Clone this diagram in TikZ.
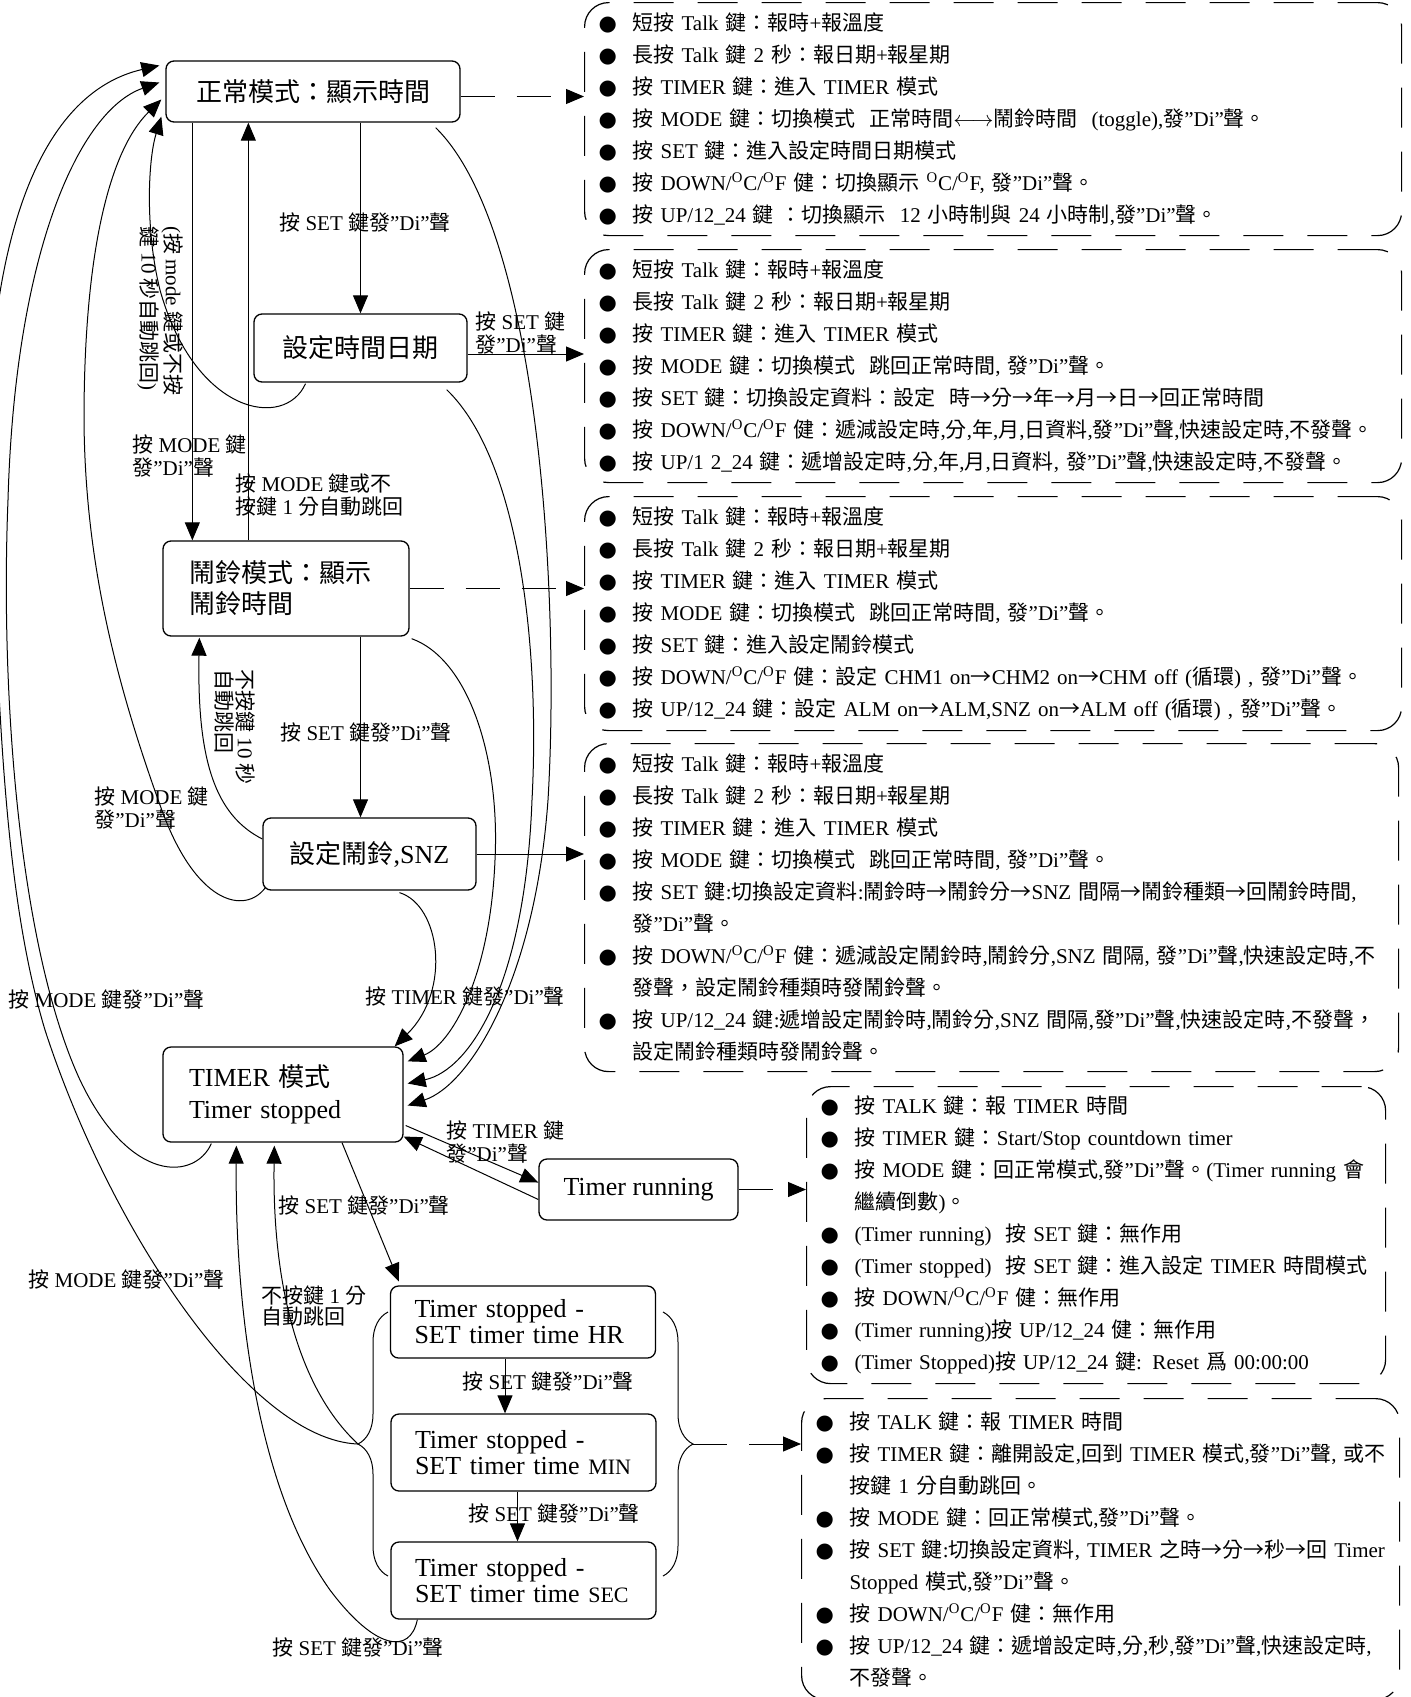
\documentclass[tikz,border=0pt]{standalone}
\usepackage{fontspec}
\setmainfont{Liberation Serif}
\newfontfamily\cjk{Noto Sans CJK TC}
\newfontfamily\symfont{DejaVu Sans}
\usetikzlibrary{arrows.meta,calc,decorations.pathreplacing}

%CJK characters switch to their own font
\newXeTeXintercharclass\cjkclass
\newcount\chrno
\chrno=0
\loop\XeTeXcharclass\chrno=0 \advance\chrno by 1 \ifnum\chrno<"3000 \repeat
\chrno="3000
\loop\XeTeXcharclass\chrno=\cjkclass\advance\chrno by 1 \ifnum\chrno<"A000 \repeat
\chrno="FF00
\loop\XeTeXcharclass\chrno=\cjkclass\advance\chrno by 1 \ifnum\chrno<"FFF0 \repeat
\XeTeXcharclass"2192=\cjkclass
\XeTeXinterchartoks 0 \cjkclass = {\cjk}
\XeTeXinterchartoks 4095 \cjkclass = {\cjk}
\XeTeXinterchartoks \cjkclass 0 = {\rmfamily}
\XeTeXinterchartoks \cjkclass 4095 = {\rmfamily}
\XeTeXinterchartokenstate=1

\newcommand{\itm}[1]{\makebox[17pt][l]{\symfont ●}\mbox{#1}}
\newcommand{\contline}[1]{\hspace*{17pt}\mbox{#1}}
\newcommand{\dg}{\textsuperscript{O}}

\tikzset{
  state/.style={draw, rounded corners=4pt, line width=0.65pt, inner sep=0pt, font=\fontsize{13}{16}\selectfont},
  statel/.style={state, align=left, inner xsep=13pt},
  listbox/.style={draw, dash pattern=on 20pt off 12pt, rounded corners=12pt, line width=0.6pt, anchor=north west, align=left, inner xsep=7pt, inner ysep=0pt, font=\fontsize{10.5}{16}\selectfont},
  lbl/.style={inner sep=0pt, align=left, font=\fontsize{10.5}{11.5}\selectfont},
  vlbl/.style={lbl, rotate=-90, anchor=north west, font=\fontsize{10.5}{10.5}\selectfont},
  arr/.style={line width=0.5pt, -{Triangle[length=9pt,width=7.5pt]}},
  darr/.style={arr, dash pattern=on 17pt off 11pt},
  brc/.style={decorate, decoration={brace, amplitude=15pt}, line width=0.5pt},
}

\begin{document}
\begin{tikzpicture}[x=0.5pt,y=0.5pt,yscale=-1,xscale=1]
	\useasboundingbox (0,0) rectangle (1410,1697);

	%Shape: Rounded Rect
	\node[state, minimum width=147pt, minimum height=30.5pt] (normal) at (313,91.5) {正常模式：顯示時間};
	\node[state, minimum width=106.5pt, minimum height=34pt] (setdate) at (360.5,348) {設定時間日期};
	\node[statel, font=\fontsize{13}{15.5}\selectfont, text width=97pt, minimum height=47.5pt] (alarm) at (286,588.5) {鬧鈴模式：顯示\\鬧鈴時間};
	\node[state, minimum width=106.5pt, minimum height=36pt] (setalarm) at (369.5,854) {設定鬧鈴,SNZ};
	\node[statel, text width=94pt, minimum height=47.5pt] (timer) at (283,1094.5) {TIMER 模式\\Timer stopped};
	\node[state, minimum width=99.5pt, minimum height=30.5pt] (running) at (638.5,1189.5) {Timer running};
	\node[statel, font=\fontsize{13}{13}\selectfont, inner xsep=12pt, text width=108.5pt, minimum height=36pt] (sethr) at (523,1322) {Timer stopped -\\SET timer time HR};
	\node[statel, font=\fontsize{13}{13}\selectfont, inner xsep=12pt, text width=108.5pt, minimum height=38.5pt] (setmin) at (523.5,1452.5) {Timer stopped -\\SET timer time {\fontsize{11}{13}\selectfont MIN}};
	\node[statel, font=\fontsize{13}{13}\selectfont, inner xsep=12pt, text width=108.5pt, minimum height=38.5pt] (setsec) at (523.5,1580.5) {Timer stopped -\\SET timer time {\fontsize{11}{13}\selectfont SEC}};

	%Shape: Dashed Rounded Rect
	\node[listbox, text width=394.5pt, minimum height=116.5pt] (lnormal) at (584,2) {%
	\itm{短按 Talk 鍵：報時+報溫度}\\
	\itm{長按 Talk 鍵 2 秒：報日期+報星期}\\
	\itm{按 TIMER 鍵：進入 TIMER 模式}\\
	\itm{按 MODE 鍵：切換模式 \ 正常時間$\longleftrightarrow$鬧鈴時間 \ (toggle),發”Di”聲。}\\
	\itm{按 SET 鍵：進入設定時間日期模式}\\
	\itm{按 DOWN/\dg C/\dg F 健：切換顯示 \dg C/\dg F, 發”Di”聲。}\\
	\itm{按 UP/12\_24 鍵 ：切換顯示 \ 12 小時制與 24 小時制,發”Di”聲。}};
	\node[listbox, text width=394.5pt, minimum height=116.5pt] (lsetdate) at (584,249) {%
	\itm{短按 Talk 鍵：報時+報溫度}\\
	\itm{長按 Talk 鍵 2 秒：報日期+報星期}\\
	\itm{按 TIMER 鍵：進入 TIMER 模式}\\
	\itm{按 MODE 鍵：切換模式 \ 跳回正常時間, 發”Di”聲。}\\
	\itm{按 SET 鍵：切換設定資料：設定 \ 時→分→年→月→日→回正常時間}\\
	\itm{按 DOWN/\dg C/\dg F 健：遞減設定時,分,年,月,日資料,發”Di”聲,快速設定時,不發聲。}\\
	\itm{按 UP/1 2\_24 鍵：遞增設定時,分,年,月,日資料, 發”Di”聲,快速設定時,不發聲。}};
	\node[listbox, text width=394.5pt, minimum height=117pt] (lalarm) at (584,496) {%
	\itm{短按 Talk 鍵：報時+報溫度}\\
	\itm{長按 Talk 鍵 2 秒：報日期+報星期}\\
	\itm{按 TIMER 鍵：進入 TIMER 模式}\\
	\itm{按 MODE 鍵：切換模式 \ 跳回正常時間, 發”Di”聲。}\\
	\itm{按 SET 鍵：進入設定鬧鈴模式}\\
	\itm{按 DOWN/\dg C/\dg F 健：設定 CHM1 on→CHM2 on→CHM off (循環) , 發”Di”聲。}\\
	\itm{按 UP/12\_24 鍵：設定 ALM on→ALM,SNZ on→ALM off (循環) , 發”Di”聲。}};
	\node[listbox, text width=393pt, minimum height=164pt] (lsetalarm) at (584,743) {%
	\itm{短按 Talk 鍵：報時+報溫度}\\
	\itm{長按 Talk 鍵 2 秒：報日期+報星期}\\
	\itm{按 TIMER 鍵：進入 TIMER 模式}\\
	\itm{按 MODE 鍵：切換模式 \ 跳回正常時間, 發”Di”聲。}\\
	\itm{按 SET 鍵:切換設定資料:鬧鈴時→鬧鈴分→SNZ 間隔→鬧鈴種類→回鬧鈴時間,}\\
	\contline{發”Di”聲。}\\
	\itm{按 DOWN/\dg C/\dg F 健：遞減設定鬧鈴時,鬧鈴分,SNZ 間隔, 發”Di”聲,快速設定時,不}\\
	\contline{發聲，設定鬧鈴種類時發鬧鈴聲。}\\
	\itm{按 UP/12\_24 鍵:遞增設定鬧鈴時,鬧鈴分,SNZ 間隔,發”Di”聲,快速設定時,不發聲，}\\
	\contline{設定鬧鈴種類時發鬧鈴聲。}};
	\node[listbox, text width=275.5pt, minimum height=148.5pt] (lrunning) at (806,1086) {%
	\itm{按 TALK 鍵：報 TIMER 時間}\\
	\itm{按 TIMER 鍵：Start/Stop countdown timer}\\
	\itm{按 MODE 鍵：回正常模式,發”Di”聲。(Timer running 會}\\
	\contline{繼續倒數)。}\\
	\itm{(Timer running) \ 按 SET 鍵：無作用}\\
	\itm{(Timer stopped) \ 按 SET 鍵：進入設定 TIMER 時間模式}\\
	\itm{按 DOWN/\dg C/\dg F 健：無作用}\\
	\itm{(Timer running)按 UP/12\_24 健：無作用}\\
	\itm{(Timer Stopped)按 UP/12\_24 鍵: Reset 爲 00:00:00}};
	\node[listbox, text width=285pt, minimum height=150.5pt] (lsettimer) at (801,1398) {%
	\itm{按 TALK 鍵：報 TIMER 時間}\\
	\itm{按 TIMER 鍵：離開設定,回到 TIMER 模式,發”Di”聲, 或不}\\
	\contline{按鍵 1 分自動跳回。}\\
	\itm{按 MODE 鍵：回正常模式,發”Di”聲。}\\
	\itm{按 SET 鍵:切換設定資料, TIMER 之時→分→秒→回 Timer}\\
	\contline{Stopped 模式,發”Di”聲。}\\
	\itm{按 DOWN/\dg C/\dg F 健：無作用}\\
	\itm{按 UP/12\_24 鍵：遞增設定時,分,秒,發”Di”聲,快速設定時,}\\
	\contline{不發聲。}};

	%Shape: Brace
	\draw[brc] (388,1576) -- (388,1312);
	\draw[brc] (663,1312) -- (663,1576);
	\coordinate (lbr) at (358,1444);
	\coordinate (rbr) at (693,1444);

	%Straight Lines
	\coordinate (m1) at ($(normal.south west)+(27,0)$);
	\coordinate (m2) at ($(alarm.north west)+(86,0)$);
	\coordinate (m3) at ($(setalarm.north)+(-9,0)$);
	\coordinate (m4) at ($(sethr.south)+(-18,0)$);
	\coordinate (m5) at ($(setmin.south)+(-6,0)$);
	\coordinate (m6) at ($(normal.east)+(0,5)$);
	\coordinate (m7) at ($(setdate.east)+(0,6)$);
	\draw[arr] (normal.south -| setdate.north) -- (setdate.north);
	\draw[arr] (m1) -- (m1 |- alarm.north);
	\draw[arr] (m2) -- (m2 |- normal.south);
	\draw[arr] (m3 |- alarm.south) -- (m3);
	\draw[arr] ($(timer.east)+(2,31)$) -- ($(running.west)+(0,-7)$);
	\draw[arr] ($(running.west)+(0,10)$) -- ($(timer.east)+(0,42)$);
	\draw[arr] ($(timer.south)+(59,0)$) -- ($(sethr.north west)+(9,-4)$);
	\draw[arr] (m4) -- (m4 |- setmin.north);
	\draw[arr] (m5) -- (m5 |- setsec.north);
	\draw[darr] (m6) -- (m6 -| lnormal.west);
	\draw[arr] (m7) -- (m7 -| lsetdate.west);
	\draw[darr] (alarm.east) -- (alarm.east -| lalarm.west);
	\draw[arr] (setalarm.east) -- (setalarm.east -| lsetalarm.west);
	\draw[darr] (running.east) -- (running.east -| lrunning.west);
	\draw[darr] (rbr) -- (rbr -| lsettimer.west);

	%Curve Lines
	\draw[arr] ($(setdate.south)+(-55,1)$) .. controls (285,430) and (195,415) .. (160,290) .. controls (145,230) and (148,160) .. ($(normal.south west)+(-4,-6)$);
	\draw[arr] ($(setalarm.south west)+(3,-3)$) .. controls (245,915) and (195,905) .. (160,805) .. controls (115,680) and (85,560) .. (84,420) .. controls (84,250) and (110,150) .. ($(normal.west)+(-4,8)$);
	\draw[arr] ($(timer.south west)+(49,1)$) .. controls (195,1180) and (130,1185) .. (80,1080) .. controls (20,950) and (0,700) .. (8,500) .. controls (15,250) and (80,110) .. ($(normal.west)+(-6,-9)$);
	\draw[arr] (lbr) .. controls (250,1440) and (110,1230) .. (45,1030) .. controls (15,930) and (2,800) .. (-5,600) .. controls (-30,330) and (10,100) .. ($(normal.west)+(-6,-26)$);
	\draw[arr] ($(setalarm.west)+(0,-15)$) .. controls (215,815) and (197,760) .. ($(alarm.south west)+(37,1)$);
	\draw[arr] ($(normal.south east)+(-25,5)$) .. controls (540,230) and (560,600) .. (548,800) .. controls (535,980) and (470,1085) .. ($(timer.east)+(4,11)$);
	\draw[arr] ($(setdate.south east)+(-21,7)$) .. controls (520,460) and (540,650) .. (532,800) .. controls (525,985) and (470,1070) .. ($(timer.east)+(4,-11)$);
	\draw[arr] ($(alarm.south east)+(2,2)$) .. controls (470,660) and (500,760) .. (495,860) .. controls (490,980) and (450,1045) .. ($(timer.north east)+(4,15)$);
	\draw[arr] ($(setalarm.south)+(30,2)$) .. controls (440,905) and (452,990) .. ($(timer.north east)+(-9,0)$);
	\draw[arr] (lbr) .. controls (305,1395) and (272,1300) .. ($(timer.south west)+(112,3)$);
	\draw[arr] ($(setsec.south west)+(27,0)$) .. controls (410,1655) and (375,1650) .. (330,1590) .. controls (255,1485) and (235,1300) .. ($(timer.south west)+(74,3)$);

	% Text Node
	\node[lbl] (lab1) at (365,222) {按 SET 鍵發”Di”聲};
	\node[lbl, anchor=west] (lab2) at (132,456) {按 MODE 鍵\\發”Di”聲};
	\node[lbl, anchor=west] (lab3) at (235,495) {按 MODE 鍵或不\\按鍵 1 分自動跳回};
	\node[vlbl] (lab4) at (184,226) {(按 mode 鍵或不按\\鍵 10 秒自動跳回)};
	\node[lbl, anchor=west] (lab5) at (475,333) {按 SET 鍵\\發”Di”聲};
	\node[lbl] (lab6) at (366,732) {按 SET 鍵發”Di”聲};
	\node[vlbl] (lab7) at (256,669) {不按鍵 10 秒\\自動跳回};
	\node[lbl, anchor=west] (lab8) at (94,808) {按 MODE 鍵\\發”Di”聲};
	\node[lbl, anchor=west] (lab9) at (8,999) {按 MODE 鍵發”Di”聲};
	\node[lbl, anchor=west] (lab10) at (365,996) {按 TIMER 鍵發”Di”聲};
	\node[lbl, anchor=west] (lab11) at (446,1142) {按 TIMER 鍵\\發”Di”聲};
	\node[lbl, anchor=west] (lab12) at (278,1205) {按 SET 鍵發”Di”聲};
	\node[lbl, anchor=west] (lab13) at (28,1279) {按 MODE 鍵發”Di”聲};
	\node[lbl, anchor=west, font=\fontsize{10.5}{10.5}\selectfont] (lab14) at (261,1306) {不按鍵 1 分\\自動跳回};
	\node[lbl, anchor=west] (lab15) at (462,1381) {按 SET 鍵發”Di”聲};
	\node[lbl, anchor=west] (lab16) at (468,1513) {按 SET 鍵發”Di”聲};
	\node[lbl, anchor=west] (lab17) at (272,1647) {按 SET 鍵發”Di”聲};

\end{tikzpicture}
\end{document}
